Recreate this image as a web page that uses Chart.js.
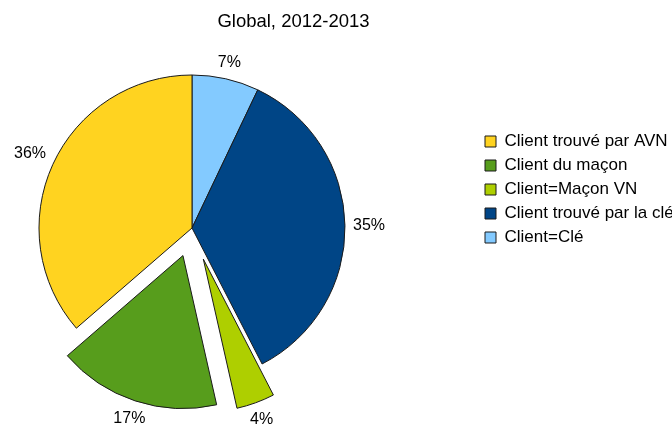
<!DOCTYPE html>
<html>
<head>
<meta charset="utf-8">
<script src="https://cdn.jsdelivr.net/npm/chart.js@4/dist/chart.umd.min.js"></script>
<style>
  html, body { margin: 0; padding: 0; width: 672px; height: 425px; overflow: hidden; background: #ffffff; }
  #wrap { position: absolute; left: -94px; top: 0; width: 775px; height: 425px; }
</style>
</head>
<body>
<div id="wrap"><canvas id="c" width="775" height="425"></canvas></div>
<script>
// Slices, clockwise from twelve o'clock
const categories = ['Client=Clé', 'Client trouvé par la clé', 'Client=Maçon VN', 'Client du maçon', 'Client trouvé par AVN'];
const shares = [7, 35, 4, 17, 36];   // per cent
const titleText = 'Global, 2012-2013';

const sliceColors = ['#83CAFF', '#004586', '#AECF00', '#579D1C', '#FFD320'];
const FONT = '"Liberation Sans", Arial, sans-serif';

// Pulls chosen slices away from the centre along their bisector
const explodeSlices = {
  id: 'explodeSlices',
  afterDatasetsUpdate(chart, args, opts) {
    const meta = chart.getDatasetMeta(0);
    meta.data.forEach((arc, i) => {
      const d = opts.distances[i] || 0;
      if (!d) return;
      const mid = (arc.startAngle + arc.endAngle) / 2;
      arc.x += Math.cos(mid) * d;
      arc.y += Math.sin(mid) * d;
    });
  }
};

// Percentage labels just outside each slice
const pctLabels = {
  id: 'pctLabels',
  afterDatasetsDraw(chart, args, opts) {
    const ctx = chart.ctx;
    const meta = chart.getDatasetMeta(0);
    const values = chart.data.datasets[0].data;
    ctx.save();
    ctx.font = opts.font;
    ctx.fillStyle = opts.color;
    ctx.textAlign = 'center';
    ctx.textBaseline = 'middle';
    meta.data.forEach((arc, i) => {
      const text = values[i] + '%';
      const mid = (arc.startAngle + arc.endAngle) / 2;
      const c = Math.cos(mid), s = Math.sin(mid);
      const hw = ctx.measureText(text).width / 2;
      const reach = hw * Math.abs(c) + opts.halfHeight * Math.abs(s);
      const r = arc.outerRadius + opts.gap + reach;
      ctx.fillText(text, arc.x + c * r, arc.y + s * r);
    });
    ctx.restore();
  }
};

new Chart(document.getElementById('c'), {
  type: 'pie',
  data: {
    labels: categories,
    datasets: [{
      data: shares,
      backgroundColor: sliceColors,
      borderColor: '#1a1a1a',
      borderWidth: 1,
      radius: 153,
      clip: false
    }]
  },
  options: {
    responsive: false,
    animation: false,
    events: [],
    layout: { padding: { left: 0, right: 0, top: 0, bottom: 46 } },
    plugins: {
      title: {
        display: true,
        text: titleText,
        color: '#000000',
        font: { family: FONT, size: 18.5, weight: 'normal', lineHeight: 1.2 },
        padding: { top: 10.8, bottom: 44 }
      },
      legend: {
        position: 'right',
        align: 'center',
        reverse: true,
        maxWidth: 203,
        labels: {
          color: '#000000',
          font: { family: FONT, size: 17 },
          boxWidth: 11,
          boxHeight: 11,
          padding: 7
        }
      },
      tooltip: { enabled: false },
      explodeSlices: { distances: [0, 0, 33, 29, 0] },
      pctLabels: { font: '16px ' + FONT, color: '#000000', gap: 8, halfHeight: 6 }
    }
  },
  plugins: [explodeSlices, pctLabels]
});
</script>
</body>
</html>
